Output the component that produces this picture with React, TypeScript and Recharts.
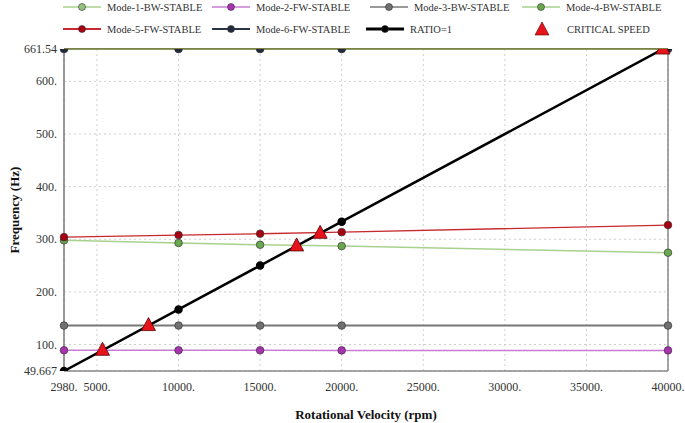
import React from 'react';
import {
  ComposedChart, Line, Scatter, XAxis, YAxis, CartesianGrid, ReferenceLine, Label,
} from 'recharts';

const rpm = [2980, 10000, 15000, 20000, 40000];
const mode1 = [661.54, 661.54, 661.54, 661.54, 661.54];
const mode2 = [89, 89, 89, 88.8, 88.8];
const mode3 = [136, 136, 136, 136, 136];
const mode4 = [298, 293, 289.5, 287, 274.5];
const mode5 = [304, 308, 310.5, 313.5, 327];
const mode6 = [661.54, 661.54, 661.54, 661.54, 661.54];
const ratio = [49.667, 166.67, 250, 333.33, 666.67];

const criticalRpm = [5340, 8160, 17240, 18680, 39692];
const criticalFreq = [89, 136, 287.3, 311.3, 661.54];

const xTicks = [2980, 5000, 10000, 15000, 20000, 25000, 30000, 35000, 40000];
const yTicks = [49.667, 100, 200, 300, 400, 500, 600, 661.54];

const rows = rpm.map((r, i) => ({
  rpm: r, m1: mode1[i], m2: mode2[i], m3: mode3[i], m4: mode4[i], m5: mode5[i], m6: mode6[i], ratio: ratio[i],
}));
const critical = criticalRpm.map((r, i) => ({ rpm: r, freq: criticalFreq[i] }));

const FONT = '"Liberation Serif", "DejaVu Serif", serif';

const fmtX = (v: number) => `${v}.`;
const fmtY = (v: number) => (v === 49.667 || v === 661.54 ? String(v) : `${v}.`);

const XTick = (props: any) => {
  const { x, y, payload } = props;
  return (
    <text x={x} y={y + 12} textAnchor="middle" fontFamily={FONT} fontSize={12} fill="#333">
      {fmtX(payload.value)}
    </text>
  );
};

const YTick = (props: any) => {
  const { x, y, payload } = props;
  return (
    <text x={x + 1} y={y + 4} textAnchor="end" fontFamily={FONT} fontSize={12} fill="#333">
      {fmtY(payload.value)}
    </text>
  );
};

const Triangle = (props: any) => {
  const { cx, cy } = props;
  if (cx == null || cy == null) return null;
  return (
    <polygon
      points={`${cx},${cy - 8} ${cx - 7},${cy + 5} ${cx + 7},${cy + 5}`}
      fill="#e8141c"
      stroke="#5a0000"
      strokeWidth={0.8}
    />
  );
};

const legendItems = [
  { name: 'Mode-1-BW-STABLE', line: '#a9d18e', dot: '#93c47d', x: 63, y: 7, w: 1.5 },
  { name: 'Mode-2-FW-STABLE', line: '#c77dd1', dot: '#a832b0', x: 212, y: 7, w: 1.5 },
  { name: 'Mode-3-BW-STABLE', line: '#777777', dot: '#6f6f6f', x: 370, y: 7, w: 1.5 },
  { name: 'Mode-4-BW-STABLE', line: '#a9d18e', dot: '#6aa84f', x: 522, y: 7, w: 1.5 },
  { name: 'Mode-5-FW-STABLE', line: '#c62a2f', dot: '#a80010', x: 63, y: 29, w: 2 },
  { name: 'Mode-6-FW-STABLE', line: '#2b3346', dot: '#232a3d', x: 212, y: 29, w: 2 },
  { name: 'RATIO=1', line: '#000000', dot: '#000000', x: 366, y: 29, w: 3 },
];

function Overlay() {
  return (
    <svg width={685} height={423} style={{ position: 'absolute', left: 0, top: 0, pointerEvents: 'none' }}>
      {legendItems.map((it) => (
        <g key={it.name}>
          <line x1={it.x} x2={it.x + 38} y1={it.y} y2={it.y} stroke={it.line} strokeWidth={it.w} />
          <circle cx={it.x + 19} cy={it.y} r={3.5} fill={it.dot} stroke="#333" strokeWidth={0.6} />
          <text x={it.x + 44} y={it.y + 4} fontFamily={FONT} fontSize={10.5} fill="#333">{it.name}</text>
        </g>
      ))}
      <polygon points="542,22 535,35 549,35" fill="#e8141c" stroke="#5a0000" strokeWidth={0.6} />
      <text x={567} y={33} fontFamily={FONT} fontSize={10.5} fill="#333">CRITICAL SPEED</text>
      <text
        x={14}
        y={210}
        transform="rotate(-90 14 210)"
        textAnchor="middle"
        dominantBaseline="central"
        fontFamily={FONT}
        fontSize={13}
        fontWeight="bold"
        fill="#111"
      >
        Frequency (Hz)
      </text>
    </svg>
  );
}

const dot = (fill: string, r = 3.8) => ({ r, fill, stroke: '#333', strokeWidth: 0.7 });

export default function App() {
  return (
    <div style={{ position: 'absolute', left: 0, top: 0, width: 685, height: 423, background: '#fff', fontFamily: FONT }}>
      <ComposedChart
        width={685}
        height={423}
        data={rows}
        margin={{ top: 49, right: 17, left: 0, bottom: 0 }}
      >
        <CartesianGrid stroke="#cfcfcf" strokeDasharray="2 3" />
        <XAxis
          dataKey="rpm"
          type="number"
          domain={[2980, 40000]}
          ticks={xTicks}
          interval={0}
          height={52}
          tickLine={false}
          axisLine={{ stroke: '#888', strokeWidth: 1.5 }}
          tick={<XTick />}
        >
          <Label
            value="Rotational Velocity (rpm)"
            position="insideBottom"
            offset={4}
            style={{ fontFamily: FONT, fontSize: 13, fontWeight: 'bold', fill: '#111' }}
          />
        </XAxis>
        <YAxis
          type="number"
          domain={[49.667, 661.54]}
          ticks={yTicks}
          interval={0}
          width={64}
          allowDataOverflow
          tickLine={false}
          axisLine={{ stroke: '#777', strokeWidth: 1.5 }}
          tick={<YTick />}
        />
        <ReferenceLine x={40000} stroke="#888" strokeWidth={1.5} />
        <ReferenceLine y={661.54} stroke="#7f8048" strokeWidth={2} />
        <Line dataKey="m1" stroke="#a9d18e" strokeWidth={2} dot={dot('#93c47d')} isAnimationActive={false} />
        <Line dataKey="m2" stroke="#c77dd1" strokeWidth={1.5} dot={dot('#a832b0')} isAnimationActive={false} />
        <Line dataKey="m3" stroke="#777777" strokeWidth={2} dot={dot('#707070')} isAnimationActive={false} />
        <Line dataKey="m4" stroke="#a9d18e" strokeWidth={1.5} dot={dot('#6aa84f')} isAnimationActive={false} />
        <Line dataKey="m5" stroke="#c62a2f" strokeWidth={1.3} dot={dot('#a80010')} isAnimationActive={false} />
        <Line dataKey="m6" stroke="#5d5d2a" strokeOpacity={0.45} strokeWidth={2} dot={dot('#232a3d')} isAnimationActive={false} />
        <Line dataKey="ratio" stroke="#000" strokeWidth={2.5} dot={{ r: 3, fill: '#000', stroke: '#000' }} isAnimationActive={false} />
        <Scatter data={critical} dataKey="freq" shape={Triangle} isAnimationActive={false} />
      </ComposedChart>
      <Overlay />
    </div>
  );
}
